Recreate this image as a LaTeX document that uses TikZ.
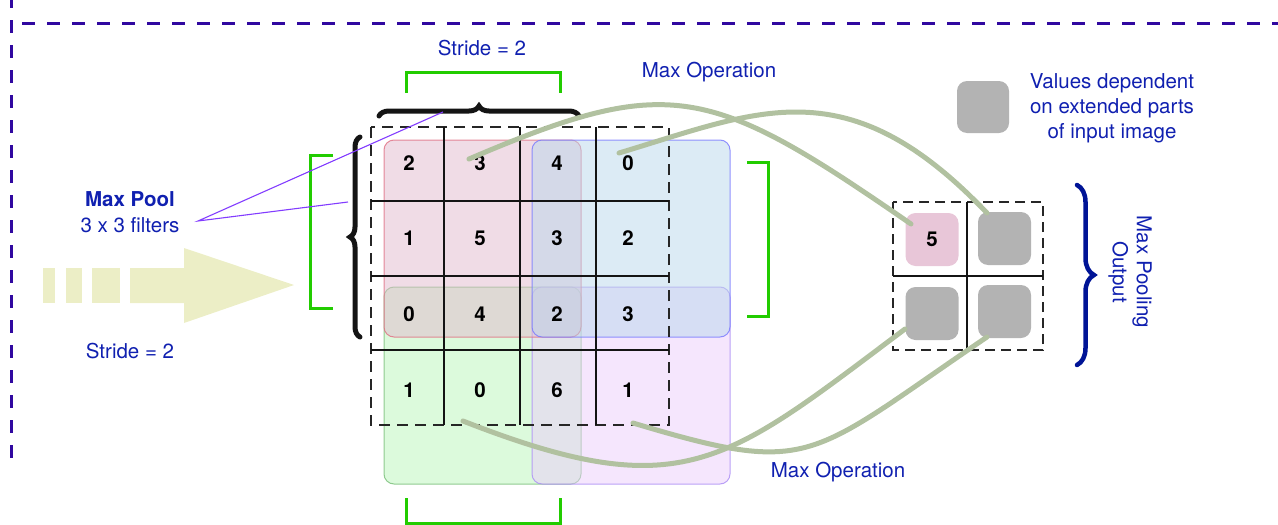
\documentclass[tikz,border=0pt]{standalone}
\usepackage{fontspec}
\setmainfont{TeX Gyre Heros}
\usetikzlibrary{decorations.pathreplacing}
\definecolor{txtblue}{RGB}{16,32,176}
\definecolor{framec}{RGB}{48,8,160}
\definecolor{brgreen}{RGB}{34,204,0}
\definecolor{navyc}{RGB}{0,20,150}
\definecolor{curvec}{RGB}{177,193,160}
\definecolor{arrowc}{RGB}{236,238,198}
\definecolor{pinkf}{RGB}{225,185,205}
\definecolor{pinkd}{RGB}{224,110,130}
\definecolor{bluef}{RGB}{185,215,235}
\definecolor{blued}{RGB}{120,120,255}
\definecolor{greenf}{RGB}{185,245,185}
\definecolor{greend}{RGB}{120,190,120}
\definecolor{violf}{RGB}{235,205,251}
\definecolor{viold}{RGB}{170,140,245}
\definecolor{sqgray}{RGB}{179,179,179}
\definecolor{sqpink}{RGB}{232,198,216}
\definecolor{ptrline}{RGB}{130,60,255}
\tikzset{
  win/.style={rounded corners=10pt, fill opacity=0.5, draw opacity=0.8, line width=1pt},
  num/.style={font=\fontsize{20.5}{24}\selectfont\bfseries, inner sep=0pt},
  txt/.style={font=\fontsize{20.5}{25}\selectfont, text=txtblue, inner sep=0pt, align=center},
  bracket/.style={draw=brgreen, line width=3pt},
  gridd/.style={draw=black!85, line width=1.2pt, dash pattern=on 11pt off 7pt},
  gridod/.style={draw=black!85, line width=1.2pt, dash pattern=on 10pt off 6pt},
  grids/.style={draw=black!92, line width=1.2pt},
  flow/.style={draw=curvec, line width=5pt, line cap=round},
  outsq/.style={rounded corners=10pt, minimum size=53pt, inner sep=0pt, font=\fontsize{20.5}{24}\selectfont\bfseries},
  blackbrace/.style={decorate, decoration={brace, amplitude=10pt}, line width=5pt, line cap=round, draw=black!92},
  framel/.style={draw=framec, line width=3pt, dash pattern=on 12.5pt off 12.5pt}
}
\begin{document}
\begin{tikzpicture}[x=1pt,y=-1pt]
\useasboundingbox (0,0) rectangle (1278,525);
% frame
\draw[framel] (11.5,-5) -- (11.5,457.5);
\draw[framel] (22,23) -- (1290,23);
% big arrow
\fill[arrowc] (43,268) rectangle (55,303);
\fill[arrowc] (66,268) rectangle (82,303);
\fill[arrowc] (92,268) rectangle (120,303);
\fill[arrowc] (130,268) -- (184,268) -- (184,248) -- (294,285) -- (184,323) -- (184,303) -- (130,303) -- cycle;
% windows
\path[win, fill=greenf, draw=greend] (384,287) rectangle (581,484);
\path[win, fill=violf, draw=viold] (532,287) rectangle (730,484);
\path[win, fill=pinkf, draw=pinkd] (384,140) rectangle (581,337);
\path[win, fill=bluef, draw=blued] (532,140) rectangle (730,337);
% grid
\draw[gridd] (371,127) rectangle (669,425);
\draw[grids] (444,127) -- (444,425) (520,127) -- (520,425) (596,127) -- (596,425);
\draw[grids] (371,201) -- (669,201) (371,276) -- (669,276) (371,350) -- (669,350);
% numbers
\node[num] (n11) at (409,163) {2};
\node[num] (n12) at (480,163) {3};
\node[num] (n13) at (557,163) {4};
\node[num] (n14) at (628,163) {0};
\node[num] (n21) at (409,238) {1};
\node[num] (n22) at (480,238) {5};
\node[num] (n23) at (557,238) {3};
\node[num] (n24) at (628,238) {2};
\node[num] (n31) at (409,314) {0};
\node[num] (n32) at (480,314) {4};
\node[num] (n33) at (557,314) {2};
\node[num] (n34) at (628,314) {3};
\node[num] (n41) at (409,390) {1};
\node[num] (n42) at (480,390) {0};
\node[num] (n43) at (557,390) {6};
\node[num] (n44) at (628,390) {1};
% green brackets
\draw[bracket] (406,93) -- (406,72) -- (560,72) -- (560,93);
\draw[bracket] (406,498) -- (406,523) -- (560,523) -- (560,498);
\draw[bracket] (333,155) -- (310,155) -- (310,308) -- (333,308);
\draw[bracket] (747,162) -- (768,162) -- (768,316) -- (747,316);
% black braces
\draw[blackbrace] (379,116) -- (579,116);
\draw[blackbrace] (360,337) -- (360,137);
% output grid
\draw[gridod] (893,202) rectangle (1043,350);
\draw[grids] (967,202) -- (967,350) (893,276) -- (1043,276);
\node[outsq, fill=sqpink] (o11) at (932,239.5) {5};
\node[outsq, fill=sqgray] (o12) at (1004.5,238.5) {};
\node[outsq, fill=sqgray] (o21) at (932,313.5) {};
\node[outsq, fill=sqgray] (o22) at (1004.5,311.5) {};
\node[outsq, fill=sqgray, minimum size=52pt] (leg) at (983,107) {};
% navy brace
\draw[decorate, decoration={brace, amplitude=17pt}, line width=4.5pt, draw=navyc, line cap=round] (1077,185) -- (1077,365);
% texts
\node[txt] (strtop) at (482,48) {Stride = 2};
\node[txt] (mop1) at (709,72) {Max Operation};
\node[txt] (mop2) at (838,472) {Max Operation};
\node[txt, font=\fontsize{20.5}{26}\selectfont] (mp) at (130,212) {\bfseries Max Pool\\3 x 3 filters};
\node[txt] (strleft) at (130,351) {Stride = 2};
\node[txt] (legt) at (1112,108) {Values dependent\\on extended parts\\of input image};
\node[txt, rotate=-90, font=\fontsize{20.5}{24}\selectfont] (mpo) at (1130,272) {Max Pooling\\Output};
% pointer lines
\coordinate (mpc) at (198,221);
\coordinate (pt1) at (443,112);
\coordinate (pt2) at (348,202);
\draw[ptrline, line width=1.1pt] (pt1) -- (mpc) -- (pt2);
% flow curves
\coordinate (a0) at (469,159);
\coordinate (a1) at (911,224);
\coordinate (b0) at (619,153);
\coordinate (b1) at (987,213);
\coordinate (c0) at (463,421);
\coordinate (c1) at (905,329);
\coordinate (d0) at (633,423);
\coordinate (d1) at (987,337);
\draw[flow] (a0) .. controls (670,73) and (710,85) .. (a1);
\draw[flow] (b0) .. controls (759,111) and (847,66) .. (b1);
\draw[flow] (c0) .. controls (683,507) and (725,464) .. (c1);
\draw[flow] (d0) .. controls (813,477) and (807,459) .. (d1);
\end{tikzpicture}
\end{document}
